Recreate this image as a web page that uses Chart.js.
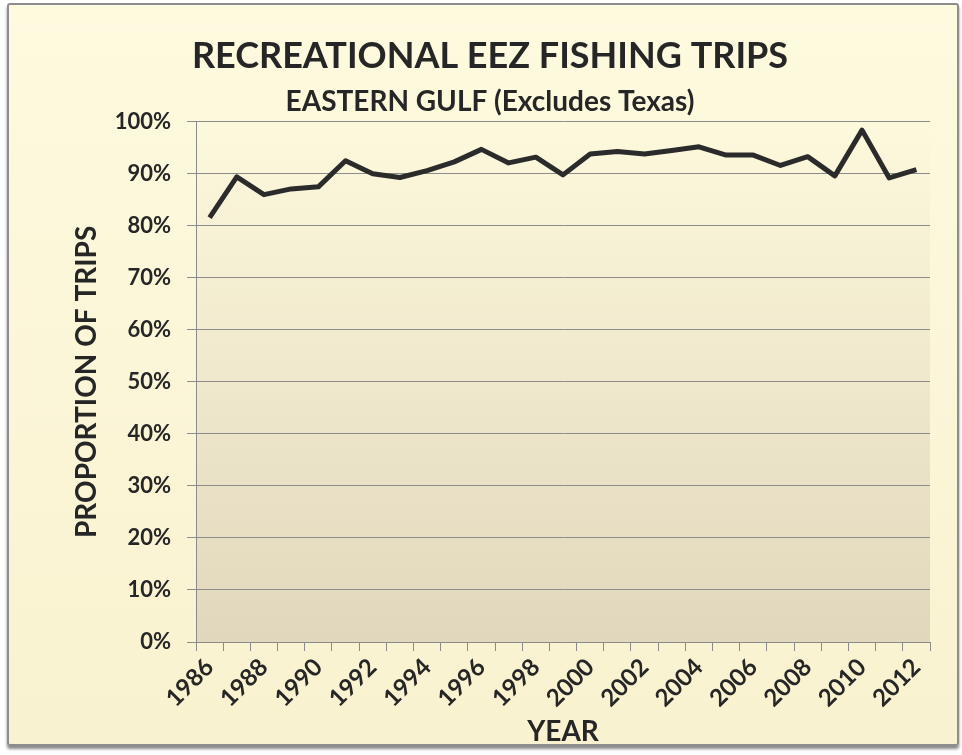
<!DOCTYPE html>
<html>
<head>
<meta charset="utf-8">
<script src="https://cdn.jsdelivr.net/npm/chart.js@4.4.1/dist/chart.umd.min.js"></script>
<style>
  html, body { margin: 0; padding: 0; background: #ffffff; }
  #frame {
    position: absolute; left: 7px; top: 3px; width: 948px; height: 739px;
    border: 2px solid #8d8d8d; border-radius: 3px;
    background: linear-gradient(#fdfadf, #f9f2d0);
    box-shadow: 0 3px 3px #8a8a8a;
  }
  #wrap { position: absolute; left: 0; top: 0; width: 962px; height: 755px; }
</style>
</head>
<body>
<div id="frame"></div>
<div id="wrap"><canvas id="tripsChart" width="962" height="755"></canvas></div>
<script>
const years = ["1986", "1987", "1988", "1989", "1990", "1991", "1992", "1993", "1994", "1995",
  "1996", "1997", "1998", "1999", "2000", "2001", "2002", "2003", "2004", "2005",
  "2006", "2007", "2008", "2009", "2010", "2011", "2012"]

// proportion of trips in EEZ (%)
const eezShare = [81.6, 89.4, 86.0, 87.1, 87.5, 92.5, 90.0, 89.3, 90.6, 92.3,
  94.7, 92.1, 93.2, 89.8, 93.8, 94.3, 93.8, 94.5, 95.2, 93.6,
  93.6, 91.6, 93.3, 89.6, 98.4, 89.2, 90.8]

const yTicks = [0, 10, 20, 30, 40, 50, 60, 70, 80, 90, 100]

const fontFamily = "Lato, 'Open Sans', sans-serif"
const textColor = '#262626'

// plot area background, cream fading to beige
const plotBackground = {
  id: 'plotBackground',
  beforeDraw: (chart) => {
    const { ctx, chartArea } = chart
    const grad = ctx.createLinearGradient(0, chartArea.top, 0, chartArea.bottom)
    grad.addColorStop(0, '#fdf9dc')
    grad.addColorStop(1, '#e1d7bc')
    ctx.save()
    ctx.fillStyle = grad
    ctx.fillRect(chartArea.left, chartArea.top, chartArea.right - chartArea.left, chartArea.bottom - chartArea.top)
    ctx.restore()
  }
}

const tripsCanva = document.getElementById("tripsChart")

new Chart(tripsCanva, {
  type: 'line',
  data: {
    labels: years,
    datasets: [{
      label: 'EEZ trips',
      data: eezShare,
      borderColor: '#2b2b2b',
      borderWidth: 5,
      pointRadius: 0,
      tension: 0,
      borderJoinStyle: 'round',
      fill: false
    }]
  },
  plugins: [plotBackground],
  options: {
    responsive: false,
    animation: false,
    devicePixelRatio: 1,
    layout: {
      padding: { top: 20, left: 50, right: 32, bottom: 2 }
    },
    plugins: {
      legend: { display: false },
      tooltip: { enabled: false },
      title: {
        display: true,
        text: 'RECREATIONAL EEZ FISHING TRIPS',
        color: textColor,
        padding: { top: 15, bottom: 0 },
        font: { family: fontFamily, size: 36, weight: 'bold', lineHeight: 1.2 }
      },
      subtitle: {
        display: true,
        text: 'EASTERN GULF (Excludes Texas)',
        color: textColor,
        padding: { top: 7, bottom: 3 },
        font: { family: fontFamily, size: 28, weight: 'bold', lineHeight: 1.2 }
      }
    },
    scales: {
      x: {
        offset: true,
        grid: {
          offset: true,
          drawOnChartArea: false,
          drawTicks: true,
          tickLength: 9,
          color: '#8a8a8a'
        },
        border: { display: true, color: '#8a8a8a', width: 1 },
        ticks: {
          autoSkip: false,
          maxRotation: 45,
          minRotation: 45,
          padding: 2,
          color: textColor,
          font: { family: fontFamily, size: 24, weight: 'bold' },
          callback: (val, i) => (i % 2 === 0 ? years[i] : '')
        },
        title: {
          display: true,
          text: 'YEAR',
          color: textColor,
          padding: { top: 0, bottom: 4 },
          font: { family: fontFamily, size: 28, weight: 'bold', lineHeight: 1.2 }
        },
        afterFit: (scale) => { scale.height = 111 }
      },
      y: {
        min: 0,
        max: 100,
        afterBuildTicks: (scale) => { scale.ticks = yTicks.map(v => ({ value: v })) },
        grid: {
          color: '#8c8c8c',
          lineWidth: 1,
          drawTicks: true,
          tickLength: 9
        },
        border: { display: true, color: '#8a8a8a', width: 1 },
        ticks: {
          padding: 16,
          color: textColor,
          font: { family: fontFamily, size: 22, weight: 'bold' },
          callback: (v) => v + '%'
        },
        title: {
          display: true,
          text: 'PROPORTION OF TRIPS',
          color: textColor,
          padding: { top: 20, bottom: 4 },
          font: { family: fontFamily, size: 28, weight: 'bold', lineHeight: 1.2 }
        },
        afterFit: (scale) => { scale.width = 146 }
      }
    }
  }
})
</script>
</body>
</html>
